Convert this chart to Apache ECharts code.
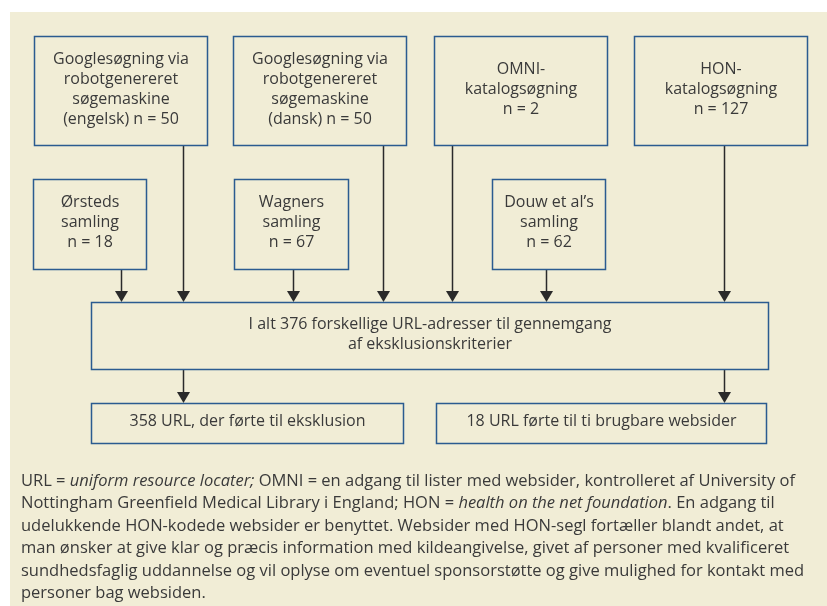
<!DOCTYPE html>
<html>
<head>
<meta charset="utf-8">
<script src="https://cdn.jsdelivr.net/npm/echarts@6/dist/echarts.min.js"></script>
<style>
  html, body { margin: 0; padding: 0; background: #fff; }
  #chart { width: 827px; height: 606px; }
</style>
</head>
<body>
<div id="chart"></div>
<script>
// søgekilder (øverste række)
const sourceLabels = ['Googlesøgning via\nrobotgenereret\nsøgemaskine\n(engelsk)', 'Googlesøgning via\nrobotgenereret\nsøgemaskine\n(dansk)', 'OMNI-\nkatalogsøgning', 'HON-\nkatalogsøgning'];
const sourceN = [50, 50, 2, 127];
// samlinger (midterste række)
const collectionLabels = ['Ørsteds\nsamling', 'Wagners\nsamling', 'Douw et al’s\nsamling'];
const collectionN = [18, 67, 62];
// resultater
const totalUrl = 376;
const excludedUrl = 358;
const usableUrl = 18;
const usableSites = 'ti';

// placering af kasser i diagrammets koordinater: [x0, y0, x1, y1]
const sourceBoxes = [[34, 36, 207, 145], [233, 36, 406, 145], [434, 36, 607, 145], [634, 36, 807, 145]];
const collectionBoxes = [[33, 179, 146, 269], [234, 179, 348, 269], [492, 179, 605, 269]];
const totalBox = [91, 302, 768, 369];
const resultBoxes = [[91, 403, 403, 443], [436, 403, 766, 443]];

// pile: [x, fra y, til y]
const arrows = [
  [183, 145, 302], [383, 145, 302], [452, 145, 302], [724, 145, 302],
  [121, 269, 302], [293, 269, 302], [546, 269, 302],
  [183, 369, 403], [724, 369, 403]
];

const FONT = '"Open Sans", Lato, sans-serif';
const TEXT = '#3a3a3a';

const boxTexts = [];
const boxData = [];
sourceBoxes.forEach((b, i) => {
  boxData.push(b);
  boxTexts.push(sourceLabels[i] + (i < 2 ? ' ' : '\n') + 'n = ' + sourceN[i]);
});
collectionBoxes.forEach((b, i) => {
  boxData.push(b);
  boxTexts.push(collectionLabels[i] + '\nn = ' + collectionN[i]);
});
boxData.push(totalBox);
boxTexts.push('I alt ' + totalUrl + ' forskellige URL-adresser til gennemgang\naf eksklusionskriterier');
boxData.push(resultBoxes[0]);
boxTexts.push(excludedUrl + ' URL, der førte til eksklusion');
boxData.push(resultBoxes[1]);
boxTexts.push(usableUrl + ' URL førte til ' + usableSites + ' brugbare websider');

const footnote = [
  'URL = {i|uniform resource locater;} OMNI = en adgang til lister med websider, kontrolleret af University of',
  'Nottingham Greenfield Medical Library i England; HON = {i|health on the net foundation}. En adgang til',
  'udelukkende HON-kodede websider er benyttet. Websider med HON-segl fortæller blandt andet, at',
  'man ønsker at give klar og præcis information med kildeangivelse, givet af personer med kvalificeret',
  'sundhedsfaglig uddannelse og vil oplyse om eventuel sponsorstøtte og give mulighed for kontakt med',
  'personer bag websiden.'
].join('\n');

const chart = echarts.init(document.getElementById('chart'));

function renderBox(params, api) {
  const b = boxData[params.dataIndex];
  const p0 = api.coord([b[0], b[1]]);
  const p1 = api.coord([b[2], b[3]]);
  const x = Math.round(p0[0]) + 0.5, y = Math.round(p0[1]) + 0.5;
  const w = Math.round(p1[0] - p0[0]), h = Math.round(p1[1] - p0[1]);
  return {
    type: 'group',
    children: [{
      type: 'rect',
      shape: { x: x, y: y, width: w, height: h },
      style: { fill: 'transparent', stroke: '#2b5b90', lineWidth: 1.5 }
    }, {
      type: 'text',
      x: x + w / 2,
      y: y + h / 2 - 2,
      style: {
        text: boxTexts[params.dataIndex],
        fill: TEXT,
        fontFamily: FONT,
        fontSize: 16,
        lineHeight: 20,
        align: 'center',
        verticalAlign: 'middle'
      }
    }]
  };
}

function renderArrow(params, api) {
  const a = arrows[params.dataIndex];
  const top = api.coord([a[0], a[1]]);
  const tip = api.coord([a[0], a[2]]);
  const x = Math.round(top[0]) + 0.5;
  const head = 11, half = 6.5;
  return {
    type: 'group',
    children: [{
      type: 'line',
      shape: { x1: x, y1: top[1], x2: x, y2: tip[1] - head },
      style: { stroke: '#2a2a2a', lineWidth: 1.5 }
    }, {
      type: 'polygon',
      shape: { points: [[x - half, tip[1] - head], [x + half, tip[1] - head], [x, tip[1]]] },
      style: { fill: '#2a2a2a' }
    }]
  };
}

chart.setOption({
  backgroundColor: '#ffffff',
  animation: false,
  grid: { show: true, left: 10, top: 12, right: 0, bottom: 0, backgroundColor: '#f1edd6', borderWidth: 0 },
  xAxis: { type: 'value', min: 10, max: 827, show: false },
  yAxis: { type: 'value', min: 12, max: 606, inverse: true, show: false },
  graphic: [{
    type: 'text',
    left: 21,
    top: 470,
    style: {
      text: footnote,
      fill: TEXT,
      fontFamily: FONT,
      fontSize: 16.5,
      lineHeight: 22.5,
      rich: {
        i: { fontFamily: FONT, fontSize: 16.5, fontStyle: 'italic', fill: TEXT, lineHeight: 22.5 }
      }
    }
  }],
  series: [{
    type: 'custom',
    renderItem: renderArrow,
    data: arrows.map(a => [a[0], a[1], a[2]]),
    silent: true
  }, {
    type: 'custom',
    renderItem: renderBox,
    data: boxData.map(b => b.slice()),
    silent: true
  }]
});
</script>
</body>
</html>
